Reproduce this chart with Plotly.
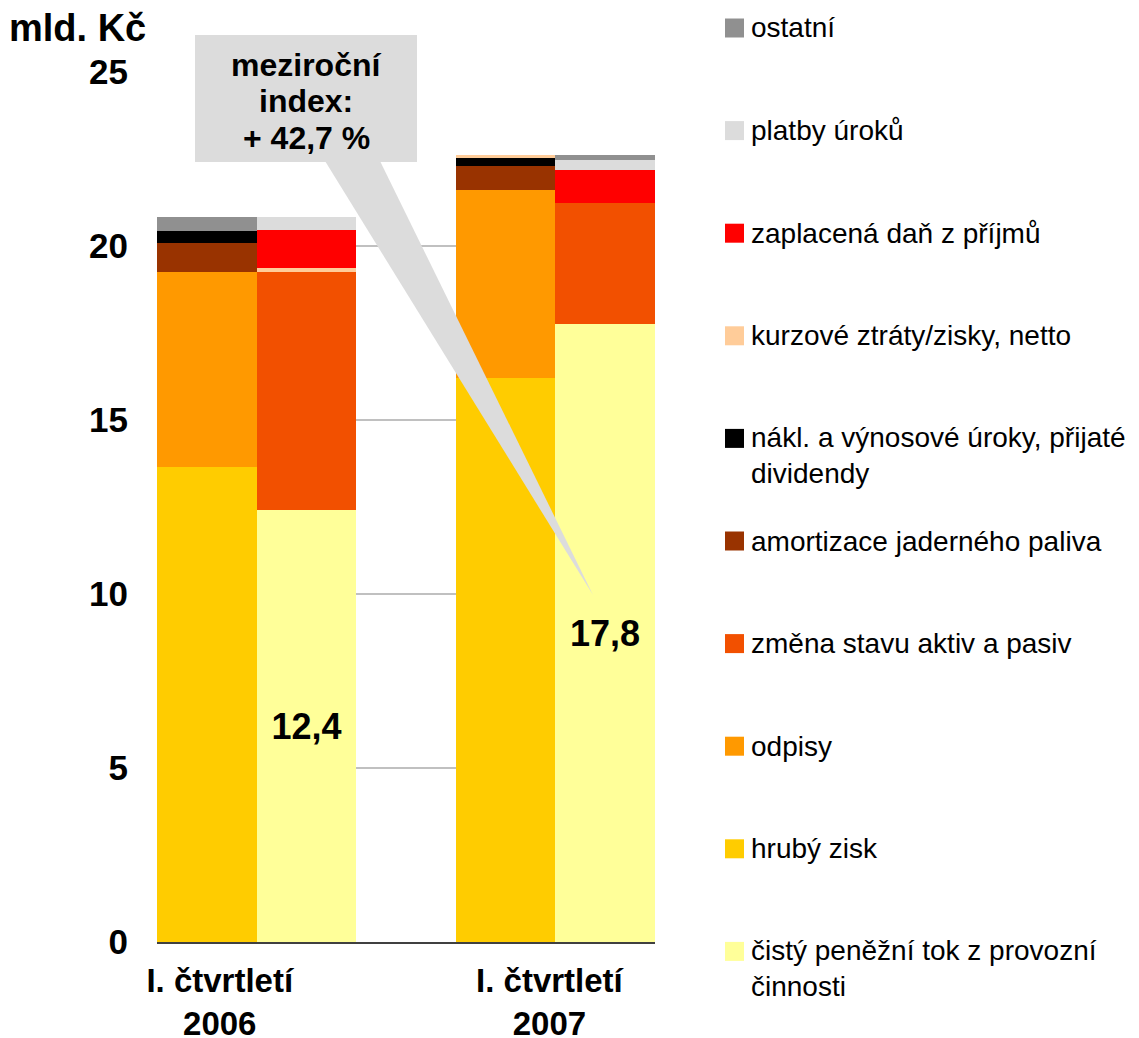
import plotly.graph_objects as go

# bar slots: 2006 sources, 2006 uses, 2007 sources, 2007 uses
positions = [0, 1, 3, 4]
cisty_tok = [0, 12.42, 0, 17.76]
hruby_zisk = [13.66, 0, 16.20, 0]
odpisy = [5.60, 0, 5.42, 0]
zmena_stavu = [0, 6.82, 0, 3.49]
amortizace = [0.84, 0, 0.67, 0]
uroky = [0.34, 0, 0.25, 0]
kurzove = [0, 0.14, 0.07, 0]
dan = [0, 1.07, 0, 0.92]
platby_uroku = [0, 0.37, 0, 0.29]
ostatni = [0.38, 0, 0, 0.15]

bar_labels = ["", "12,4", "", "17,8"]
quarter_ticks = [0.13, 3.44]
quarter_labels = ["I. čtvrtletí<br>2006", "I. čtvrtletí<br>2007"]
index_lines = ["meziroční", "index:", "+ 42,7 %"]
y_ticks = [0, 5, 10, 15, 20, 25]

# stacking order bottom -> top
series = [
    ("čistý peněžní tok z provozní<br>činnosti", cisty_tok, "#ffff99"),
    ("hrubý zisk", hruby_zisk, "#ffcc00"),
    ("odpisy", odpisy, "#ff9900"),
    ("změna stavu aktiv a pasiv", zmena_stavu, "#f25000"),
    ("amortizace jaderného paliva", amortizace, "#993300"),
    ("nákl. a výnosové úroky, přijaté<br>dividendy", uroky, "#000000"),
    ("kurzové ztráty/zisky, netto", kurzove, "#ffcc99"),
    ("zaplacená daň z příjmů", dan, "#ff0000"),
    ("platby úroků", platby_uroku, "#dcdcdc"),
    ("ostatní", ostatni, "#909090"),
]

FONT = "Liberation Sans, Arial, sans-serif"
# page body has an 8px margin, so the figure is drawn 8px in from the corner
OFF = 8
W, H = 1139 - OFF, 1038
PL, PR, PT, PB = 157, 655, 72, 942  # plot area in page pixels


def px_x(px):
    return (px - PL) / (PR - PL)


def px_y(py):
    return (PB - py) / (PB - PT)


fig = go.Figure()
for name, vals, color in series:
    kw = {}
    if vals is cisty_tok:
        kw = dict(
            text=bar_labels,
            textposition="inside",
            insidetextanchor="middle",
            textangle=0,
            textfont=dict(size=36, color="black", family=FONT, weight="bold"),
        )
    fig.add_trace(
        go.Bar(
            x=positions,
            y=vals,
            width=1,
            name=name,
            marker=dict(color=color, line=dict(width=0)),
            showlegend=False,
            **kw,
        )
    )

shapes = []
annotations = []

# callout box with wedge pointer
shapes.append(
    dict(
        type="path",
        xref="paper",
        yref="paper",
        path=f"M {px_x(325)},{px_y(161)} L {px_x(380)},{px_y(161)} L {px_x(593)},{px_y(595)} Z",
        fillcolor="#dcdcdc",
        line=dict(width=0),
        layer="above",
    )
)
shapes.append(
    dict(
        type="rect",
        xref="paper",
        yref="paper",
        x0=px_x(195),
        x1=px_x(417),
        y0=px_y(162),
        y1=px_y(35),
        fillcolor="#dcdcdc",
        line=dict(width=0),
        layer="above",
    )
)
for i, line in enumerate(index_lines):
    annotations.append(
        dict(
            text=f"<b>{line}</b>",
            xref="paper",
            yref="paper",
            x=px_x(306),
            y=px_y(65 + i * 36.5),
            xanchor="center",
            yanchor="middle",
            showarrow=False,
            font=dict(size=32, color="black", family=FONT),
        )
    )

annotations.append(
    dict(
        text="<b>mld. Kč</b>",
        xref="paper",
        yref="paper",
        x=px_x(7),
        y=px_y(28),
        xanchor="left",
        yanchor="middle",
        showarrow=False,
        font=dict(size=38, color="black", family=FONT),
    )
)

# legend drawn by hand to get the wide even spacing
for k, (name, vals, color) in enumerate(reversed(series)):
    cy = 28 + k * 102.6
    shapes.append(
        dict(
            type="rect",
            xref="paper",
            yref="paper",
            x0=px_x(725),
            x1=px_x(744),
            y0=px_y(cy + 9.5),
            y1=px_y(cy - 9.5),
            fillcolor=color,
            line=dict(width=0),
        )
    )
    two_lines = "<br>" in name
    annotations.append(
        dict(
            text=name,
            xref="paper",
            yref="paper",
            x=px_x(749),
            y=px_y(cy + (17 if two_lines else 0)),
            xanchor="left",
            yanchor="middle",
            align="left",
            showarrow=False,
            font=dict(size=28, color="black", family=FONT),
        )
    )

fig.update_layout(
    width=W,
    height=H,
    autosize=False,
    margin=dict(
        l=PL - OFF, r=W - (PR - OFF), t=PT - OFF, b=H - (PB - OFF), autoexpand=False
    ),
    paper_bgcolor="white",
    plot_bgcolor="white",
    barmode="stack",
    bargap=0,
    showlegend=False,
    font=dict(family=FONT, color="black"),
    xaxis=dict(
        range=[-0.5, 4.5],
        tickvals=quarter_ticks,
        ticktext=[f"<b>{t}</b>" for t in quarter_labels],
        tickfont=dict(size=33, family=FONT, color="black"),
        showgrid=False,
        showline=True,
        linecolor="#404040",
        linewidth=2,
        ticks="",
        ticklabelstandoff=8,
        zeroline=False,
    ),
    yaxis=dict(
        range=[0, 25],
        tickvals=y_ticks,
        ticktext=[f"<b>{v}</b>" for v in y_ticks],
        tickfont=dict(size=35, family=FONT, color="black"),
        showgrid=True,
        gridcolor="#c0c0c0",
        gridwidth=1.5,
        zeroline=False,
        showline=False,
        ticks="",
        ticklabelstandoff=28,
    ),
    shapes=shapes,
    annotations=annotations,
)

fig.write_html("out.html")
